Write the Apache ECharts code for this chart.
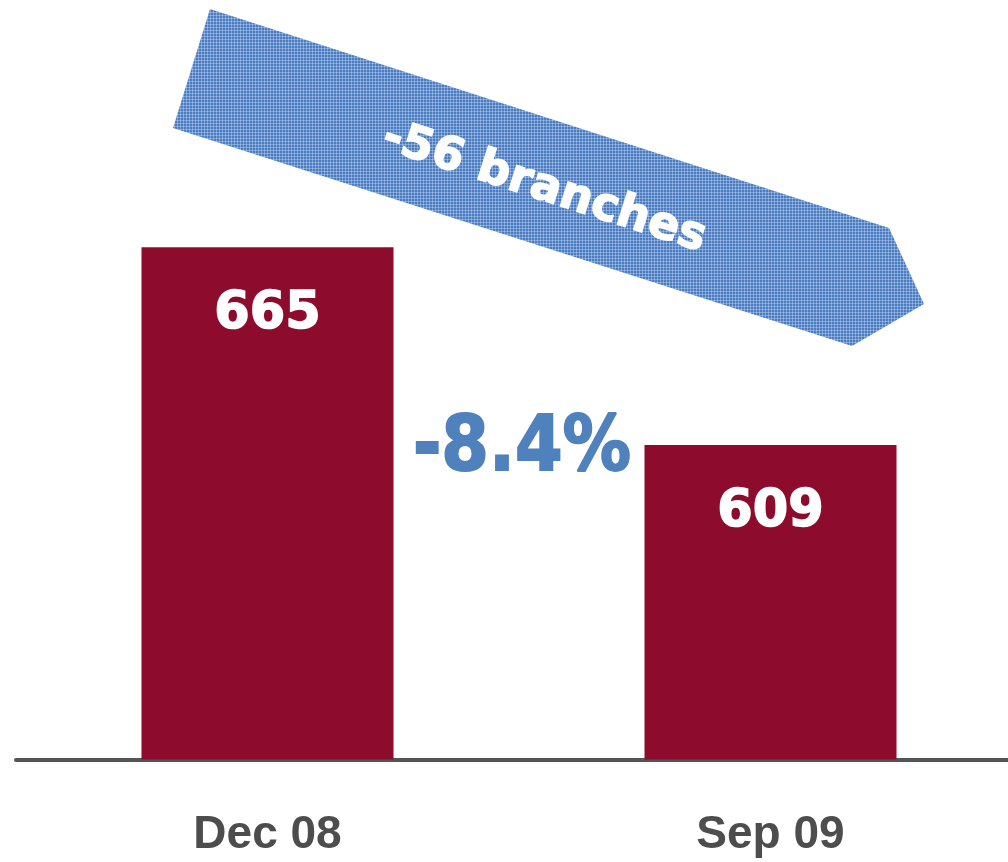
<!DOCTYPE html>
<html>
<head>
<meta charset="utf-8">
<title>Branches</title>
<script src="https://cdn.jsdelivr.net/npm/echarts@6/dist/echarts.min.js"></script>
<style>
  html, body { margin: 0; padding: 0; background: #ffffff; }
  #chart { width: 1008px; height: 862px; }
</style>
</head>
<body>
<div id="chart"></div>
<script>
// Branch counts at two reporting dates
const categories = ['Dec 08', 'Sep 09'];
const branches = [665, 609];

const BAR_RED = '#8d0b2c';
const BLUE = '#4f81bd';

// Change between the two dates, used for the annotations
const change = branches[1] - branches[0];
const changePct = (change / branches[0] * 100).toFixed(1);

// Small tiled texture for the arrow fill
function makeTexture() {
  const c = document.createElement('canvas');
  c.width = 3; c.height = 3;
  const g = c.getContext('2d');
  g.fillStyle = '#4a7cc0';
  g.fillRect(0, 0, 3, 3);
  g.fillStyle = '#7fa3d8';
  g.fillRect(0, 0, 3, 1);
  g.fillRect(0, 0, 1, 3);
  g.fillStyle = '#9fbce4';
  g.fillRect(0, 0, 1, 1);
  return c;
}

const chart = echarts.init(document.getElementById('chart'), null, { renderer: 'canvas' });

chart.setOption({
  animation: false,
  backgroundColor: '#ffffff',
  grid: { left: 16, width: 1006, top: 123.5, bottom: 102.5, containLabel: false, outerBoundsMode: 'none' },
  xAxis: {
    type: 'category',
    data: categories,
    axisLine: { show: true, lineStyle: { color: '#555555', width: 4, cap: 'round' } },
    axisTick: { show: false },
    axisLabel: {
      margin: 53,
      color: '#4d4d4d',
      fontFamily: 'Liberation Sans, Arial, sans-serif',
      fontWeight: 'bold',
      fontSize: 46
    }
  },
  yAxis: {
    type: 'value',
    min: 520,
    max: 700,
    show: false,
    splitLine: { show: false }
  },
  series: [{
    type: 'bar',
    data: branches,
    barWidth: 252,
    itemStyle: { color: BAR_RED },
    label: {
      show: true,
      position: ['50%', 68],
      align: 'center',
      verticalAlign: 'middle',
      color: '#ffffff',
      textBorderColor: '#ffffff',
      textBorderWidth: 1.5,
      fontFamily: 'DejaVu Sans, sans-serif',
      fontWeight: 'bold',
      fontSize: 51
    }
  }],
  graphic: [
    {
      type: 'polygon',
      z: 10,
      shape: { points: [[210, 9], [889, 228], [924, 304], [852, 346], [173, 128]] },
      style: { fill: { image: makeTexture(), repeat: 'repeat' } }
    },
    {
      type: 'text',
      z: 11,
      x: 544,
      y: 188,
      rotation: -Math.atan2(219, 679),
      style: {
        text: change + ' branches',
        fill: '#ffffff',
        stroke: '#ffffff',
        lineWidth: 1.5,
        font: 'bold 46px "DejaVu Sans", sans-serif',
        align: 'center',
        verticalAlign: 'middle'
      }
    },
    {
      type: 'text',
      z: 11,
      x: 522,
      y: 450,
      scaleX: 0.9,
      style: {
        text: changePct + '%',
        fill: BLUE,
        stroke: BLUE,
        lineWidth: 2,
        font: 'bold 76px "DejaVu Sans", sans-serif',
        align: 'center',
        verticalAlign: 'middle'
      }
    }
  ]
});
</script>
</body>
</html>
